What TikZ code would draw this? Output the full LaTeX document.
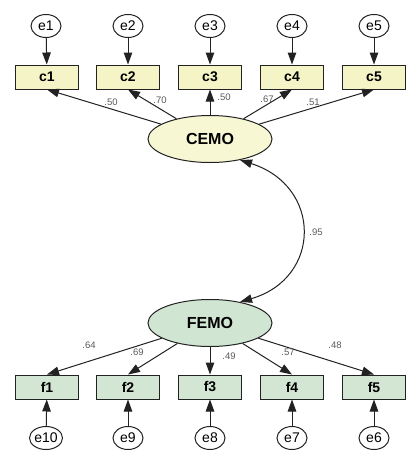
\documentclass[tikz,border=0pt]{standalone}
\usepackage{fontspec}
\setmainfont{Liberation Sans}
\usetikzlibrary{arrows.meta,shapes.geometric}
\definecolor{yfill}{HTML}{F4F4C6}
\definecolor{yell}{HTML}{F7F7D4}
\definecolor{gfill}{HTML}{D3E6D4}
\definecolor{gell}{HTML}{D0E6D2}
\definecolor{lab}{HTML}{5A5A5A}
\definecolor{ink}{HTML}{222222}
\begin{document}
\begin{tikzpicture}[x=1pt,y=-1pt,
  tip/.style={-{Triangle[length=12pt,width=8.5pt]}},
  obs/.style={draw=ink, line width=1pt, minimum width=63pt, minimum height=24pt, inner sep=0pt, font=\bfseries\fontsize{14}{14}\selectfont},
  cobs/.style={obs, fill=yfill},
  fobs/.style={obs, fill=gfill},
  err/.style={draw=ink, ellipse, line width=1pt, minimum width=30pt, minimum height=23pt, inner sep=0pt, font=\fontsize{14}{14}\selectfont, fill=white},
  lat/.style={draw=ink, ellipse, line width=1pt, minimum width=124pt, minimum height=47pt, inner sep=0pt, font=\bfseries\fontsize{16}{16}\selectfont},
  coef/.style={font=\fontsize{9.5}{9.5}\selectfont, text=lab, inner sep=0pt},
  link/.style={draw=ink, line width=1pt}
]
\useasboundingbox[fill=white] (0,0) rectangle (417,466);
% top
\node[err] (e1) at (46,26) {e1};
\node[err] (e2) at (128,26) {e2};
\node[err] (e3) at (210,26) {e3};
\node[err] (e4) at (292,26) {e4};
\node[err] (e5) at (374,26) {e5};
\node[cobs] (c1) at (47,77) {c1};
\node[cobs] (c2) at (128,77) {c2};
\node[cobs] (c3) at (210,77) {c3};
\node[cobs] (c4) at (292,77) {c4};
\node[cobs] (c5) at (374,77) {c5};
\node[lat, fill=yell] (CEMO) at (210,139) {CEMO};
\foreach \i in {1,...,5}{\draw[link,tip] (e\i) -- (c\i);}
\foreach \i in {1,...,5}{\draw[link,tip] (CEMO) -- (c\i.south);}
\node[coef] (l1) at (111,102) {.50};
\node[coef] (l2) at (160,100) {.70};
\node[coef] (l3) at (224,97) {.50};
\node[coef] (l4) at (267,99) {.67};
\node[coef] (l5) at (313,102) {.51};
% bottom
\node[lat, fill=gell] (FEMO) at (210,323) {FEMO};
\node[fobs] (f1) at (47,387) {f1};
\node[fobs] (f2) at (128,387) {f2};
\node[fobs] (f3) at (210,387) {f3};
\node[fobs] (f4) at (292,387) {f4};
\node[fobs] (f5) at (374,387) {f5};
\node[err] (e10) at (46,438) {e10};
\node[err] (e9) at (128,438) {e9};
\node[err] (e8) at (210,438) {e8};
\node[err] (e7) at (292,438) {e7};
\node[err] (e6) at (374,438) {e6};
\draw[link,tip] (e10) -- (f1);
\draw[link,tip] (e9) -- (f2);
\draw[link,tip] (e8) -- (f3);
\draw[link,tip] (e7) -- (f4);
\draw[link,tip] (e6) -- (f5);
\foreach \i in {1,...,5}{\draw[link,tip] (FEMO) -- (f\i.north);}
\node[coef] (m1) at (89,345) {.64};
\node[coef] (m2) at (137,352) {.69};
\node[coef] (m3) at (229,356) {.49};
\node[coef] (m4) at (288,352) {.57};
\node[coef] (m5) at (335,345) {.48};
% covariance
\draw[link,{Triangle[length=12pt,width=8.5pt]}-{Triangle[length=12pt,width=8.5pt]}] (CEMO.-35) .. controls (322,186) and (322,278) .. (FEMO.35);
\node[coef] (r) at (316,232) {.95};
\end{tikzpicture}
\end{document}
